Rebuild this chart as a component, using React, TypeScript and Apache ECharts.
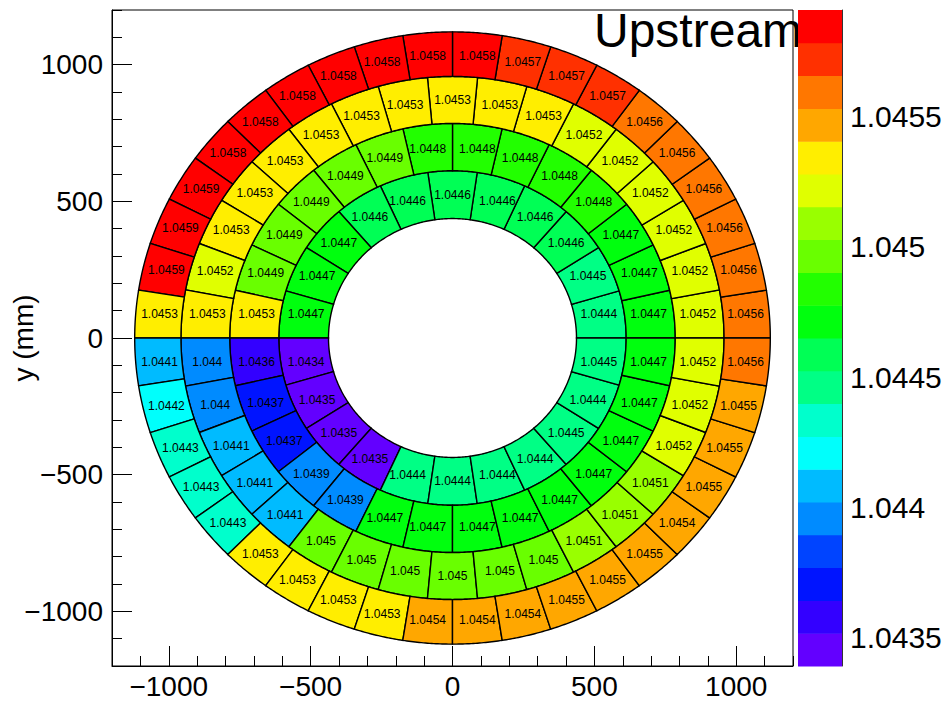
import React, { useEffect, useRef } from "react";
import * as echarts from "echarts";

// Ring edges of the detector (mm), inner to outer
const ringEdgesMm = [437, 612, 785, 957, 1120];

// Cell values per ring, counter-clockwise starting at angle 0 (+x axis)
const ring1Values = [
  1.04442, 1.04449, 1.0446, 1.0446, 1.0446, 1.0446, 1.0446, 1.0446, 1.0447, 1.0447, 1.0447,
  1.04339, 1.04348, 1.04348, 1.04348, 1.04442, 1.04442, 1.04442, 1.04442, 1.04449, 1.04442, 1.04449,
];
const ring2Values = [
  1.0447, 1.0447, 1.0447, 1.0448, 1.0448, 1.0448, 1.0448, 1.0448, 1.04492, 1.04492, 1.04492, 1.04492, 1.04492, 1.04532,
  1.0436, 1.0437, 1.0437, 1.04392, 1.04392, 1.0447, 1.0447, 1.0447, 1.0447, 1.0447, 1.0447, 1.0447, 1.0447, 1.0447,
];
const ring3Values = [
  1.0452, 1.0452, 1.0452, 1.0452, 1.0452, 1.0452, 1.04532, 1.04532, 1.04532, 1.04532, 1.04532, 1.04532, 1.04532, 1.04532, 1.04532, 1.0452, 1.04532,
  1.04398, 1.04398, 1.0441, 1.0441, 1.0441, 1.045, 1.045, 1.045, 1.045, 1.045, 1.045, 1.0451, 1.0451, 1.0451, 1.0452, 1.0452, 1.0452,
];
const ring4Values = [
  1.0456, 1.0456, 1.0456, 1.0456, 1.0456, 1.0456, 1.0457, 1.0457, 1.0457,
  1.0458, 1.0458, 1.0458, 1.0458, 1.0458, 1.0458, 1.0458, 1.0459, 1.04591, 1.0459, 1.04532,
  1.0441, 1.0442, 1.0443, 1.0443, 1.0443, 1.04532, 1.04532, 1.04532, 1.04532, 1.04542, 1.04542, 1.04542,
  1.0455, 1.0455, 1.0455, 1.04542, 1.0455, 1.0455, 1.0455, 1.0456,
];
const ringValues = [ring1Values, ring2Values, ring3Values, ring4Values];

const xTickValues = [-1000, -500, 0, 500, 1000];
const yTickValues = [-1000, -500, 0, 500, 1000];
const zTickValues = [1.0435, 1.044, 1.0445, 1.045, 1.0455];
const titleText = "Upstream";
const yAxisTitle = "y (mm)";

// ROOT "pretty" palette sampled for 20 contours
const palette = [
  "#6300ff", "#3300ff", "#0014ff", "#0044ff", "#008bff", "#00bbff", "#00fffc", "#00ffcc", "#00ff85", "#00ff55",
  "#00ff0e", "#22ff00", "#69ff00", "#99ff00", "#e0ff00", "#ffee00", "#ffa700", "#ff7700", "#ff3000", "#ff0000",
];

const FONT = "'Liberation Sans', Arial, sans-serif";

export default function App() {
  const ref = useRef<HTMLDivElement>(null);

  useEffect(() => {
    if (!ref.current) return;
    const chart = echarts.init(ref.current, null, { renderer: "svg" });

    const all = ringValues.flat();
    const zMin = Math.min(...all);
    const zMax = Math.max(...all);
    const nC = palette.length;
    const step = (zMax - zMin) / nC;
    const colorFor = (v: number) => {
      let k = Math.floor((v - zMin) / step + 1e-9);
      if (k < 0) k = 0;
      if (k > nC - 1) k = nC - 1;
      return palette[k];
    };
    const fmtVal = (v: number) => String(Number(v.toPrecision(5)));
    const fmtAxis = (v: number) => (v < 0 ? "\u2212" + Math.abs(v) : String(v));

    const cellData: number[][] = [];
    ringValues.forEach((vals, ri) => vals.forEach((v, si) => cellData.push([ri, si, v])));

    const bandData = palette.map((_, k) => [k]);

    const tickStyle = { color: "#000", width: 1 };

    const option: any = {
      animation: false,
      backgroundColor: "#fff",
      grid: [
        {
          left: 112, top: 10, width: 681, height: 656, show: true, borderColor: "#000", borderWidth: 1,
          backgroundColor: "transparent", containLabel: false, outerBoundsMode: "none",
        },
        { left: 798, top: 10, width: 44, height: 656, show: false, containLabel: false, outerBoundsMode: "none" },
      ],
      xAxis: [
        {
          gridIndex: 0, type: "value", min: -1200, max: 1200, interval: 100, position: "bottom",
          axisLine: { show: true, onZero: false, lineStyle: tickStyle },
          axisTick: { show: true, inside: true, length: 10, lineStyle: tickStyle },
          axisLabel: { show: false }, splitLine: { show: false },
        },
        {
          gridIndex: 0, type: "value", min: -1200, max: 1200, position: "bottom",
          axisLine: { show: false, onZero: false },
          axisTick: { show: true, inside: true, length: 20, customValues: xTickValues, lineStyle: tickStyle },
          axisLabel: { show: true, customValues: xTickValues, formatter: fmtAxis, fontSize: 28, fontFamily: FONT, color: "#000", margin: 6 },
          splitLine: { show: false },
        },
        { gridIndex: 1, type: "value", min: 0, max: 1, show: false, axisLine: { onZero: false } },
      ],
      yAxis: [
        {
          gridIndex: 0, type: "value", min: -1200, max: 1200, interval: 100, position: "left",
          axisLine: { show: true, onZero: false, lineStyle: tickStyle },
          axisTick: { show: true, inside: true, length: 10, lineStyle: tickStyle },
          axisLabel: { show: false }, splitLine: { show: false },
        },
        {
          gridIndex: 0, type: "value", min: -1200, max: 1200, position: "left",
          axisLine: { show: false, onZero: false },
          axisTick: { show: true, inside: true, length: 20, customValues: yTickValues, lineStyle: tickStyle },
          axisLabel: { show: true, customValues: yTickValues, formatter: fmtAxis, fontSize: 28, fontFamily: FONT, color: "#000", margin: 9 },
          splitLine: { show: false },
          name: yAxisTitle, nameLocation: "middle", nameGap: 75, nameRotate: 90, nameMoveOverlap: false,
          nameTextStyle: { fontSize: 28, fontFamily: FONT, color: "#000" },
        },
        {
          gridIndex: 1, type: "value", min: zMin, max: zMax, position: "right",
          axisLine: { show: true, onZero: false, lineStyle: { color: "#333", width: 1 } },
          axisTick: { show: true, inside: true, length: 20, customValues: zTickValues, lineStyle: tickStyle },
          axisLabel: { show: true, customValues: zTickValues, formatter: (v: number) => fmtVal(v), fontSize: 30, fontFamily: FONT, color: "#000", margin: 8 },
          splitLine: { show: false },
        },
      ],
      graphic: [
        {
          type: "text", x: 594, y: 30, z: 0,
          style: { text: titleText, fontSize: 48, fontFamily: FONT, fill: "#000", align: "left", verticalAlign: "middle" },
        },
      ],
      series: [
        {
          type: "custom",
          xAxisIndex: 0, yAxisIndex: 0,
          data: cellData,
          z: 5,
          renderItem: (params: any, api: any) => {
            const ri = api.value(0) as number;
            const si = api.value(1) as number;
            const v = api.value(2) as number;
            const n = ringValues[ri].length;
            const r0 = ringEdgesMm[ri];
            const r1 = ringEdgesMm[ri + 1];
            const a0 = (si * 2 * Math.PI) / n;
            const a1 = ((si + 1) * 2 * Math.PI) / n;
            const steps = 24;
            const pts: number[][] = [];
            for (let i = 0; i <= steps; i++) {
              const a = a0 + ((a1 - a0) * i) / steps;
              pts.push([r1 * Math.cos(a), r1 * Math.sin(a)]);
            }
            for (let i = steps; i >= 0; i--) {
              const a = a0 + ((a1 - a0) * i) / steps;
              pts.push([r0 * Math.cos(a), r0 * Math.sin(a)]);
            }
            let minX = Infinity, maxX = -Infinity, minY = Infinity, maxY = -Infinity;
            pts.forEach(([x, y]) => {
              if (x < minX) minX = x; if (x > maxX) maxX = x;
              if (y < minY) minY = y; if (y > maxY) maxY = y;
            });
            const c = api.coord([(minX + maxX) / 2, (minY + maxY) / 2]);
            const pix = pts.map((p) => api.coord(p));
            return {
              type: "group",
              children: [
                { type: "polygon", shape: { points: pix }, style: { fill: colorFor(v), stroke: "#000", lineWidth: 1.4 } },
                {
                  type: "text", x: c[0], y: c[1], z2: 10,
                  style: { text: fmtVal(v), fill: "#000", fontSize: 12, fontFamily: FONT, align: "center", verticalAlign: "middle" },
                },
              ],
            };
          },
        },
        {
          type: "custom",
          xAxisIndex: 2, yAxisIndex: 2,
          data: bandData,
          z: 10,
          renderItem: (params: any, api: any) => {
            const k = api.value(0) as number;
            const lo = zMin + k * step;
            const hi = lo + step;
            const p0 = api.coord([0, hi]);
            const p1 = api.coord([1, lo]);
            return {
              type: "rect",
              shape: { x: p0[0], y: p0[1], width: p1[0] - p0[0], height: p1[1] - p0[1] + 0.5 },
              style: { fill: palette[k] },
            };
          },
        },
      ],
    };

    chart.setOption(option);
    return () => chart.dispose();
  }, []);

  return (
    <div
      ref={ref}
      style={{ position: "fixed", left: 0, top: 0, width: 946, height: 702, background: "#fff" }}
    />
  );
}
